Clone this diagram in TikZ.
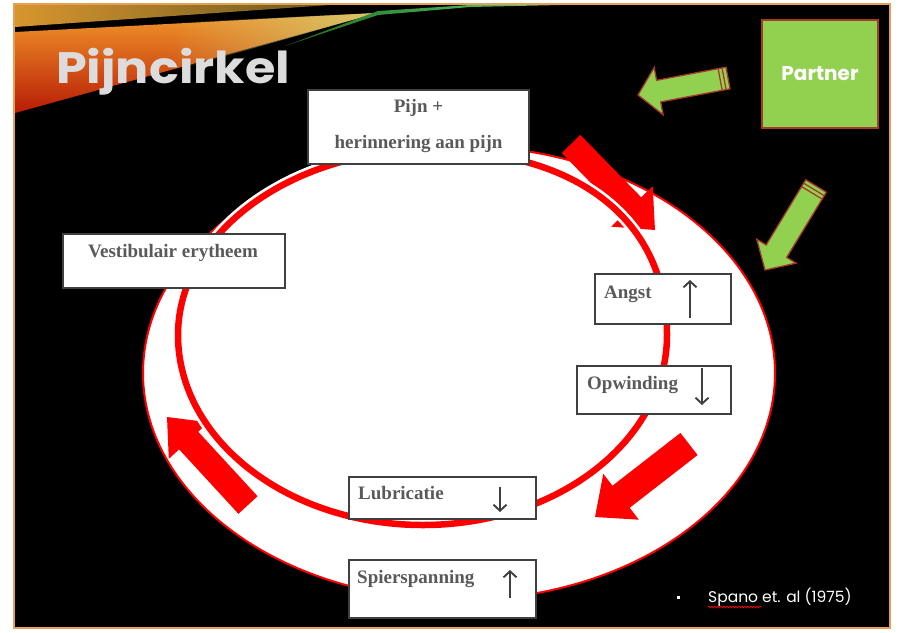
\documentclass[tikz,border=0pt]{standalone}
\usepackage{fontspec}
\setmainfont{Liberation Serif}
\newfontfamily\gothic{Poppins}
\usetikzlibrary{calc,arrows.meta,decorations.pathmorphing,fadings}

\definecolor{frameorange}{HTML}{E6A055}
\definecolor{ringred}{HTML}{FF0000}
\definecolor{boxtext}{HTML}{595959}
\definecolor{boxline}{HTML}{3F3F3F}
\definecolor{greenfill}{HTML}{92D050}
\definecolor{greenline}{HTML}{A33A2A}
\definecolor{titlegray}{HTML}{DCDCDC}
\definecolor{swA}{HTML}{D8952E}
\definecolor{swB}{HTML}{6A5A20}
\definecolor{swC}{HTML}{F2962A}
\definecolor{swD}{HTML}{B81C06}
\definecolor{swE}{HTML}{D2CC70}
\definecolor{swG}{HTML}{1F6A1A}
\definecolor{swH}{HTML}{5FD07A}

% #1 name, #2 style, #3 tail, #4 tip, #5 shaft half width, #6 head half width, #7 head length
\newcommand{\blockarrow}[7]{%
  \coordinate (#1-t) at #3;
  \coordinate (#1-h) at #4;
  \coordinate (#1-c) at ($(#1-h)!#7!(#1-t)$);
  \path[#2] ($(#1-t)!#5!90:(#1-h)$) -- ($(#1-c)!#5!90:(#1-h)$) -- ($(#1-c)!#6!90:(#1-h)$)
    -- (#1-h) -- ($(#1-c)!#6!-90:(#1-h)$) -- ($(#1-c)!#5!-90:(#1-h)$)
    -- ($(#1-t)!#5!-90:(#1-h)$) -- cycle;
}
% stripes near the tail of a striped arrow: #1 name, #2 distance, #3 half width
\newcommand{\tailstripe}[3]{%
  \coordinate (#1-s#2) at ($(#1-t)!#2pt!(#1-h)$);
  \draw[stripe] ($(#1-s#2)!#3!90:(#1-h)$) -- ($(#1-s#2)!#3!-90:(#1-h)$);
}

\begin{document}
\begin{tikzpicture}[x=1pt,y=-1pt,
  box/.style={draw=boxline, line width=1.1pt, fill=white, inner sep=0pt},
  boxlabel/.style={inner sep=0pt, text=boxtext, font=\bfseries\fontsize{19}{22}\selectfont},
  updown/.style={draw=boxline, line width=1.9pt, -{Straight Barb[length=6pt,width=13pt]}},
  redarrow/.style={fill=ringred},
  greenarrow/.style={fill=greenfill, draw=greenline, line width=1.3pt, line join=miter},
  stripe/.style={draw=greenline, line width=1.3pt},
]
\useasboundingbox (0,0) rectangle (904,632);
\fill[white] (0,0) rectangle (904,632);
\fill[black] (14,4) rectangle (890,628);

% top-left swoosh
\shade[left color=swA, right color=swB] (15,5) -- (330,5) -- (15,27) -- cycle;
\shade[top color=swC, bottom color=swD] (15,32) -- (377,13) -- (15,113) -- cycle;
\fill[swE, path fading=west, fill opacity=0.9] (170,23) -- (377,13) -- (170,72) -- cycle;
\shade[left color=swG, right color=swH] (285,46) -- (378,15) -- (470,7) -- (560,5) -- (470,5) -- (378,11) -- cycle;

\draw[frameorange, line width=2.5pt] (14,4) rectangle (890,628);

% title
\node[anchor=base west, inner sep=0pt, text=titlegray, font=\gothic\bfseries\fontsize{44}{50}\selectfont] (title) at (56,83) {\scalebox{1.12}[1]{Pijncirkel}};

% outer ellipse
\draw[ringred, line width=2pt, fill=white] (459,373) ellipse [x radius=316pt, y radius=227pt];

% red block arrows
\blockarrow{ra1}{redarrow}{(571,144)}{(655,230)}{13pt}{29pt}{33pt}
\blockarrow{ra2}{redarrow}{(689,444)}{(595,517)}{14pt}{29pt}{33pt}
\blockarrow{ra3}{redarrow}{(248,505)}{(167,417)}{13pt}{27pt}{32pt}

% inner ring
\coordinate (ringR) at (667,335);
\coordinate (ringT) at (430,150);
\coordinate (ringL) at (178,335);
\coordinate (ringB) at (423,525);
\def\ringpath{(ringR) .. controls (667,220) and (577,150) .. (ringT)
  .. controls (291,150) and (178,233) .. (ringL)
  .. controls (178,440) and (288,525) .. (ringB)
  .. controls (558,525) and (667,440) .. (ringR) -- cycle}
\draw[white, line width=12pt] \ringpath;
\draw[ringred, line width=6.5pt] \ringpath;

% boxes
\node[box, minimum width=221pt, minimum height=74pt] (pijn) at (418.5,127) {};
\node[box, minimum width=222pt, minimum height=54pt] (vest) at (174,261) {};
\node[box, minimum width=136pt, minimum height=50pt] (angst) at (663,299) {};
\node[box, minimum width=154pt, minimum height=48pt] (opw) at (654,390) {};
\node[box, minimum width=187pt, minimum height=42pt] (lub) at (442.5,498) {};
\node[box, minimum width=187pt, minimum height=58pt] (spier) at (442.5,589) {};

\node[boxlabel, anchor=base] (pijnA) at (418.5,112) {Pijn +};
\node[boxlabel, anchor=base] (pijnB) at (418.5,148) {herinnering aan pijn};
\node[boxlabel, anchor=base] (vestT) at (173,257) {Vestibulair erytheem};
\node[boxlabel, anchor=base west] (angstT) at (604,298) {Angst};
\node[boxlabel, anchor=base west] (opwT) at (587,389) {Opwinding};
\node[boxlabel, anchor=base west] (lubT) at (358,499) {Lubricatie};
\node[boxlabel, anchor=base west] (spierT) at (357,583) {Spierspanning};

% up / down arrows in the boxes
\coordinate (angstA1) at (690,318); \coordinate (angstA2) at (690,280);
\coordinate (opwA1) at (702,368);   \coordinate (opwA2) at (702,405);
\coordinate (lubA1) at (500,487);   \coordinate (lubA2) at (500,512);
\coordinate (spierA1) at (510,598); \coordinate (spierA2) at (510,570);
\draw[updown] (angstA1) -- (angstA2);
\draw[updown] (opwA1) -- (opwA2);
\draw[updown] (lubA1) -- (lubA2);
\draw[updown] (spierA1) -- (spierA2);

% partner
\node[fill=greenfill, draw=greenline, line width=1.3pt, minimum width=116pt, minimum height=108pt,
      text=white, font=\gothic\bfseries\fontsize{20}{24}\selectfont] (partner) at (820,74) {Partner};
\blockarrow{ga1}{greenarrow}{(728,78)}{(638,95)}{11pt}{24pt}{21pt}
\tailstripe{ga1}{4}{11pt}
\tailstripe{ga1}{8}{11pt}
\blockarrow{ga2}{greenarrow}{(816,186)}{(765,270)}{12pt}{23pt}{22pt}
\tailstripe{ga2}{4}{12pt}
\tailstripe{ga2}{8}{12pt}

% citation
\node[fill=white, minimum size=3pt, inner sep=0pt] (bullet) at (678,597) {};
\node[anchor=base west, inner sep=0pt, text=white, font=\gothic\fontsize{15.5}{18}\selectfont] (cite) at (708,602) {Spano et. al (1975)};
\coordinate (wavyA) at (708,607); \coordinate (wavyB) at (762,607);
\draw[red, line width=0.7pt, decorate, decoration={snake, amplitude=0.9pt, segment length=3pt}] (wavyA) -- (wavyB);
\end{tikzpicture}
\end{document}
